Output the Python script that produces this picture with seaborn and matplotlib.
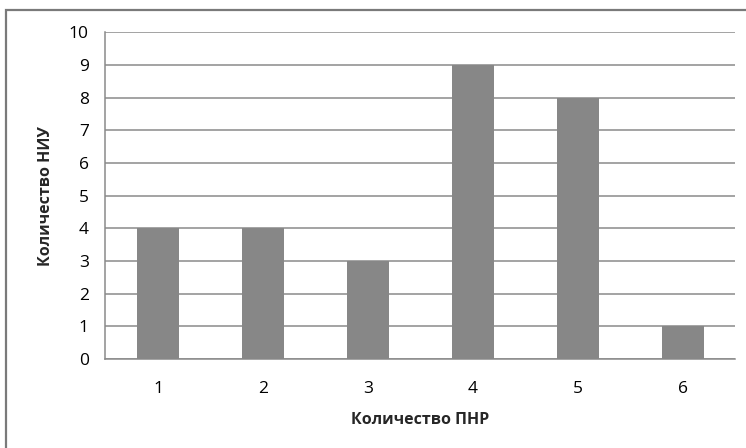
import matplotlib
matplotlib.use("Agg")
import matplotlib.pyplot as plt
import pandas as pd
import seaborn as sns
from matplotlib.patches import Rectangle

# data
categories = ["1", "2", "3", "4", "5", "6"]
counts = [4, 4, 3, 9, 8, 1]
y_ticks = list(range(0, 11))

sns.set_style("white")
plt.rcParams["font.family"] = ["Open Sans", "DejaVu Sans"]

BAR_COLOR = "#878787"
LINE_COLOR = "#8a8a8a"

df = pd.DataFrame({"pnr": categories, "niu": counts})

fig = plt.figure(figsize=(7.46, 4.48), dpi=100)
ax = fig.add_axes([0.1414, 0.1987, 0.8439, 0.7288])

sns.barplot(data=df, x="pnr", y="niu", color=BAR_COLOR, width=0.4,
            saturation=1, linewidth=0, ax=ax, zorder=3)

ax.set_xlim(-0.5, len(categories) - 0.5)
ax.set_ylim(0, 10)
ax.set_yticks(y_ticks)
ax.yaxis.grid(True, color=LINE_COLOR, linewidth=1.1, zorder=0)
ax.set_axisbelow(True)

# tick marks sit on category boundaries, labels in the middle
ax.set_xticks([i - 0.5 for i in range(len(categories) + 1)], minor=True)
ax.tick_params(axis="x", which="major", length=0, pad=16, labelsize=12.5, colors="black")
ax.tick_params(axis="x", which="minor", length=6, width=1, color=LINE_COLOR, direction="out")
ax.tick_params(axis="y", length=6, width=1, color=LINE_COLOR, direction="out",
               labelsize=12.5, pad=6, labelcolor="black")

for side in ["top", "right"]:
    ax.spines[side].set_visible(False)
for side in ["left", "bottom"]:
    ax.spines[side].set_color(LINE_COLOR)
    ax.spines[side].set_linewidth(1.1)

ax.set_xlabel("Количество ПНР", fontsize=11.5, fontweight="bold", labelpad=11)
ax.set_ylabel("Количество НИУ", fontsize=11.5, fontweight="bold", labelpad=11)

# outer chart-area frame (right and bottom edges fall outside the picture)
fig.patches.append(Rectangle((6 / 746, -0.1), 1.2, 1 - 10 / 448 + 0.1,
                             transform=fig.transFigure, fill=False,
                             edgecolor="#7a7a7a", linewidth=1.6))

fig.savefig("out.png", dpi=100)
